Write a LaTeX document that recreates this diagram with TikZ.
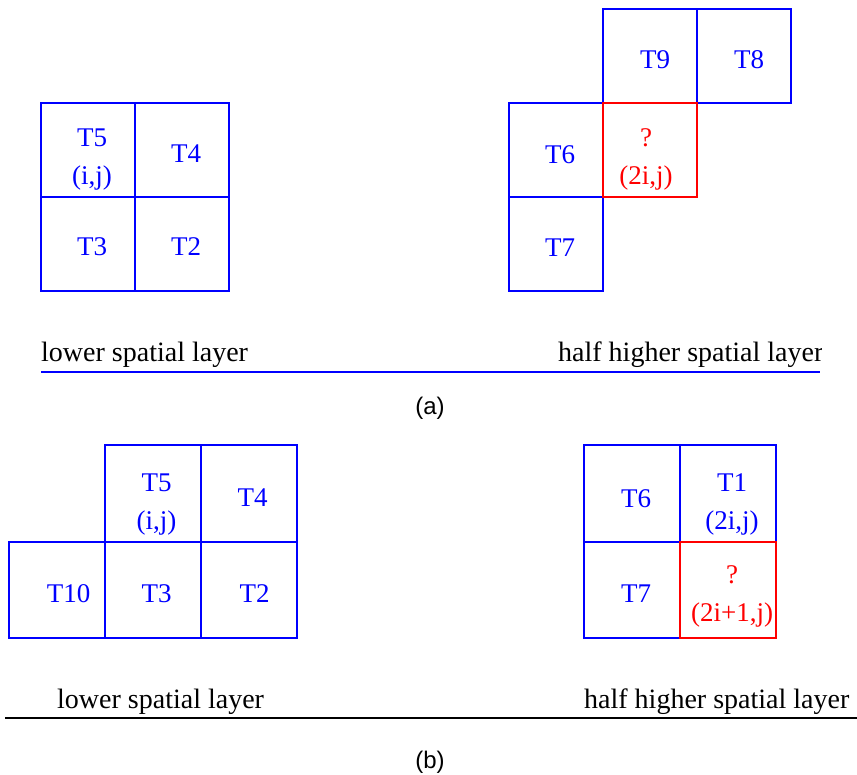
\documentclass[tikz,border=0pt]{standalone}
\usepackage{fontspec}
\setmainfont{Liberation Serif}
\newfontfamily\capfont{Liberation Sans}
\usetikzlibrary{positioning}
\tikzset{
  cellbox/.style={draw=blue, line width=2pt, outer sep=0pt, inner sep=0pt, minimum size=#1},
  cellbox/.default=94pt,
  qbox/.style={cellbox=#1, draw=red},
  qbox/.default=94pt,
  celltext/.style={text=blue, inner sep=0pt, align=center, font=\fontsize{27}{38}\selectfont},
  qtext/.style={celltext, text=red},
  layerlabel/.style={anchor=base west, inner sep=0pt, font=\fontsize{28}{30}\selectfont},
  caption/.style={font=\capfont\fontsize{24}{26}\selectfont},
  rule/.style={line width=2pt},
}
\begin{document}
\begin{tikzpicture}[x=1pt, y=-1pt]
  \useasboundingbox (0,0) rectangle (857,775);

  % (a) lower spatial layer
  \node[cellbox] (a-t5) at (88,150) {};
  \node[cellbox, right=0pt of a-t5] (a-t4) {};
  \node[cellbox, below=0pt of a-t5] (a-t3) {};
  \node[cellbox, right=0pt of a-t3] (a-t2) {};
  \node[celltext] (a-t5-txt) at ([shift={(4,10)}]a-t5) {T5\\(i,j)};
  \node[celltext] (a-t4-txt) at ([shift={(4,4)}]a-t4) {T4};
  \node[celltext] (a-t3-txt) at ([shift={(4,3)}]a-t3) {T3};
  \node[celltext] (a-t2-txt) at ([shift={(4,3)}]a-t2) {T2};

  % (a) half higher spatial layer
  \coordinate (a-q-c) at (650,150.5);
  \node[cellbox, left=47pt of a-q-c] (a-t6) {};
  \node[cellbox, below=0pt of a-t6] (a-t7) {};
  \node[cellbox, above=47pt of a-q-c] (a-t9) {};
  \node[cellbox, right=0pt of a-t9] (a-t8) {};
  \node[qbox] (a-q) at (a-q-c) {};
  \node[celltext] (a-t6-txt) at ([shift={(4,4)}]a-t6) {T6};
  \node[celltext] (a-t7-txt) at ([shift={(4,3)}]a-t7) {T7};
  \node[celltext] (a-t9-txt) at ([shift={(5,3)}]a-t9) {T9};
  \node[celltext] (a-t8-txt) at ([shift={(5,3)}]a-t8) {T8};
  \node[qtext] (a-q-txt) at ([shift={(-4,9)}]a-q) {?\\(2i,j)};

  \node[layerlabel] (a-low) at (41,362) {lower spatial layer};
  \begin{scope}
    \clip (0,0) rectangle (821,775);
    \node[layerlabel] (a-high) at (558,362) {half higher spatial layer};
  \end{scope}
  \coordinate (a-rule-w) at (41,372);
  \coordinate (a-rule-e) at (820,372);
  \draw[rule, blue] (a-rule-w) -- (a-rule-e);
  \node[caption] (a-cap) at (430,408) {(a)};

  % (b) lower spatial layer
  \node[cellbox=96pt] (b-t5) at (152.5,493.5) {};
  \node[cellbox=96pt, right=0pt of b-t5] (b-t4) {};
  \node[cellbox=96pt, below=0pt of b-t5] (b-t3) {};
  \node[cellbox=96pt, right=0pt of b-t3] (b-t2) {};
  \node[cellbox=96pt, left=0pt of b-t3] (b-t10) {};
  \node[celltext] (b-t5-txt) at ([shift={(4,11)}]b-t5) {T5\\(i,j)};
  \node[celltext] (b-t4-txt) at ([shift={(4,4)}]b-t4) {T4};
  \node[celltext] (b-t3-txt) at ([shift={(4,4)}]b-t3) {T3};
  \node[celltext] (b-t2-txt) at ([shift={(6,4)}]b-t2) {T2};
  \node[celltext] (b-t10-txt) at ([shift={(12,4)}]b-t10) {T10};

  % (b) half higher spatial layer
  \node[cellbox=96pt] (b-t6) at (632,493.5) {};
  \node[cellbox=96pt, right=0pt of b-t6] (b-t1) {};
  \node[cellbox=96pt, below=0pt of b-t6] (b-t7) {};
  \node[qbox=96pt, right=0pt of b-t7] (b-q) {};
  \node[celltext] (b-t6-txt) at ([shift={(4,5)}]b-t6) {T6};
  \node[celltext] (b-t1-txt) at ([shift={(4,11)}]b-t1) {T1\\(2i,j)};
  \node[celltext] (b-t7-txt) at ([shift={(4,4)}]b-t7) {T7};
  \node[qtext] (b-q-txt) at ([shift={(4,7)}]b-q) {?\\(2i+1,j)};

  \node[layerlabel] (b-low) at (57,708) {lower spatial layer};
  \node[layerlabel] (b-high) at (584,708) {half higher spatial layer};
  \coordinate (b-rule-w) at (5,718);
  \coordinate (b-rule-e) at (857,718);
  \draw[rule] (b-rule-w) -- (b-rule-e);
  \node[caption] (b-cap) at (430,762) {(b)};
\end{tikzpicture}
\end{document}
